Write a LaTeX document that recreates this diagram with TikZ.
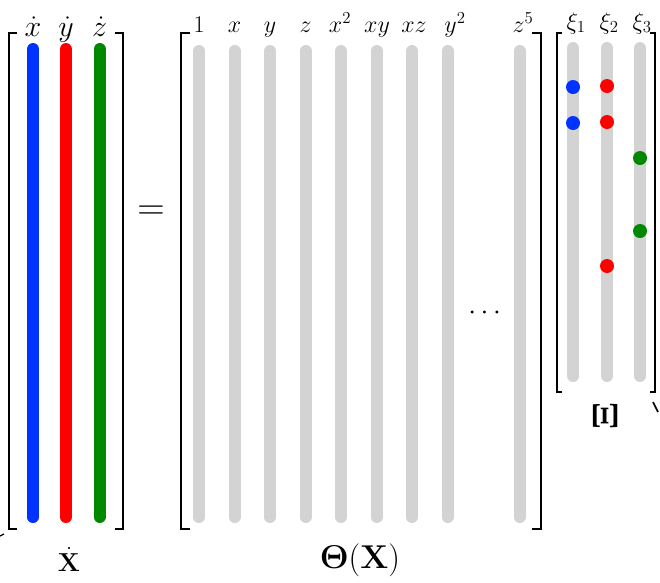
\RequirePackage{fix-cm}
\documentclass[tikz,border=0pt]{standalone}
\usepackage{amsmath,bm}
\definecolor{cblue}{RGB}{0,51,255}
\definecolor{cred}{RGB}{255,0,0}
\definecolor{cgreen}{RGB}{0,136,0}
\definecolor{cgray}{RGB}{211,211,211}
\begin{document}
\begin{tikzpicture}[x=1pt,y=-1pt,
  bar/.style={line width=12pt,line cap=round},
  brk/.style={line width=2.3pt},
  dotm/.style={circle,inner sep=0pt,minimum size=14pt},
  lbl/.style={inner sep=0pt,anchor=base},
  big/.style={font=\fontsize{30}{33}\selectfont},
  mid/.style={font=\fontsize{24}{28}\selectfont},
  xil/.style={font=\fontsize{24}{28}\selectfont}]
\useasboundingbox (0,0) rectangle (660,582);
% ---- Xdot block
\draw[brk] (17,33) -- (9,33) -- (9,529) -- (17,529);
\draw[brk] (115,33) -- (123,33) -- (123,529) -- (115,529);
\draw[bar,cblue]  (33,49) -- (33,517);
\draw[bar,cred]   (66,49) -- (66,517);
\draw[bar,cgreen] (99.5,49) -- (99.5,517);
\node[lbl,big] (lx) at (33,36) {$\dot x$};
\node[lbl,big] (ly) at (66,36) {$\dot y$};
\node[lbl,big] (lz) at (99.5,36) {$\dot z$};
\node[lbl,font=\fontsize{26}{30}\selectfont] (Xd) at (69,571) {$\dot{\mathbf{X}}$};
% ---- equals
\node[inner sep=0pt,font=\fontsize{38}{42}\selectfont] (eq) at (151,213) {$=$};
% ---- Theta block
\draw[brk] (190,33) -- (181,33) -- (181,529) -- (190,529);
\draw[brk] (532,33) -- (541,33) -- (541,529) -- (532,529);
\foreach \xx in {199,234.5,270,305.5,341,376.5,412,447.5,519.5}
  \draw[bar,cgray] (\xx,51) -- (\xx,517);
\node[lbl,mid] (c1) at (199,32) {$1$};
\node[lbl,mid] (c2) at (234.5,32) {$x$};
\node[lbl,mid] (c3) at (270,32) {$y$};
\node[lbl,mid] (c4) at (305.5,32) {$z$};
\node[lbl,mid] (c5) at (340,32) {$x^2$};
\node[lbl,mid] (c6) at (377,32) {$xy$};
\node[lbl,mid] (c7) at (414,32) {$xz$};
\node[lbl,mid] (c8) at (455,32) {$y^2$};
\node[lbl,mid] (c9) at (523,32) {$z^5$};
\node[inner sep=0pt,font=\fontsize{28}{32}\selectfont] (dots) at (487,313) {$\cdots$};
\node[lbl,font=\fontsize{33}{36}\selectfont] (Th) at (360,568.5) {$\boldsymbol{\Theta}(\mathbf{X})$};
% ---- Xi block
\draw[brk] (562,33) -- (557,33) -- (557,392) -- (562,392);
\draw[brk] (650,33) -- (655,33) -- (655,392) -- (650,392);
\foreach \xx in {573,607,640}
  \draw[bar,cgray] (\xx,48) -- (\xx,376);
\node[lbl,xil] (k1) at (576,29) {$\xi_1$};
\node[lbl,xil] (k2) at (609,29) {$\xi_2$};
\node[lbl,xil] (k3) at (642,29) {$\xi_3$};
\node[dotm,fill=cblue] (b1) at (573,87) {};
\node[dotm,fill=cblue] (b2) at (573,123) {};
\node[dotm,fill=cred] (r1) at (607,86) {};
\node[dotm,fill=cred] (r2) at (607,122) {};
\node[dotm,fill=cred] (r3) at (607,266) {};
\node[dotm,fill=cgreen] (g1) at (640,158) {};
\node[dotm,fill=cgreen] (g2) at (640,231) {};
\node[inner sep=0pt,rotate=90,font=\fontsize{36}{40}\selectfont] (Xi) at (605,416) {$\boldsymbol{\Xi}$};
% ---- clipped fragments
\draw[line width=1.6pt] (653,402) -- (658,412);
\draw[line width=1.2pt] (0,536) -- (4,534);
\end{tikzpicture}
\end{document}
